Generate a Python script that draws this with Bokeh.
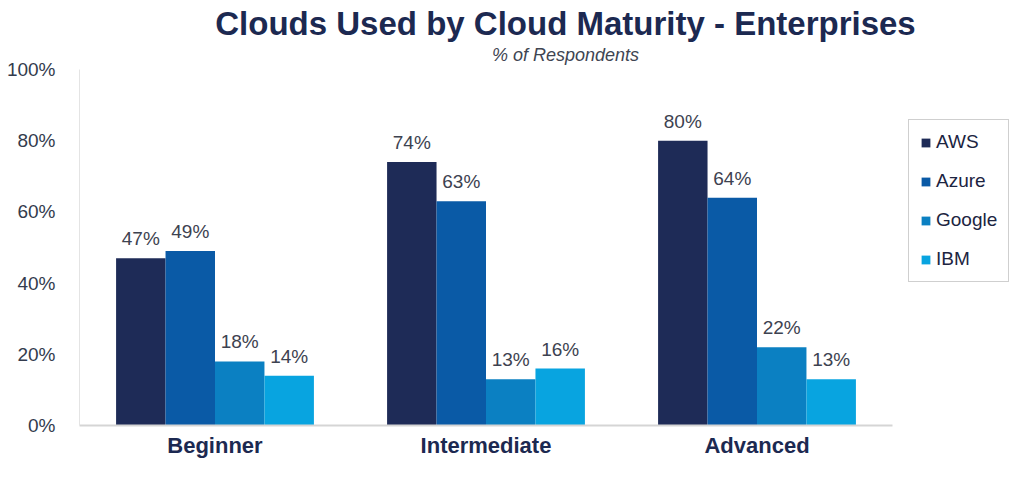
from bokeh.plotting import figure
from bokeh.models import ColumnDataSource, Legend, LegendItem, FixedTicker, Label, Range1d
from bokeh.core.properties import value
from bokeh.embed import file_html
from bokeh.resources import INLINE

categories = ["Beginner", "Intermediate", "Advanced"]
series = ["AWS", "Azure", "Google", "IBM"]
aws = [47, 74, 80]
azure = [49, 63, 64]
google = [18, 13, 22]
ibm = [14, 16, 13]
y_ticks = [0, 20, 40, 60, 80, 100]

colors = ["#1e2b57", "#0a5aa6", "#0b80c2", "#08a4e0"]
values = [aws, azure, google, ibm]

FONT = "Liberation Sans"
W, H = 1013, 461
LEFT, RIGHT, BOTTOM = 79, 1, 36
frame_w = W - LEFT - RIGHT
frame_h = H - BOTTOM
px_per_cat = 271.0
px_per_pct = (frame_h - 69) / 100.0

cat_x = list(range(len(categories)))
p = figure(x_range=Range1d(-0.5, -0.5 + frame_w / px_per_cat),
           y_range=Range1d(0, frame_h / px_per_pct),
           width=W, height=H, output_backend="svg", toolbar_location=None,
           min_border_left=LEFT, min_border_right=RIGHT, min_border_top=0,
           min_border_bottom=BOTTOM)
p.outline_line_color = None
p.xgrid.grid_line_color = None
p.ygrid.grid_line_color = None
p.background_fill_color = "white"
p.border_fill_color = "white"

bw = 0.1825
offsets = [-1.5 * bw, -0.5 * bw, 0.5 * bw, 1.5 * bw]
items = []
for name, vals, col, off in zip(series, values, colors, offsets):
    src = ColumnDataSource(dict(x=[c + off for c in cat_x], val=vals,
                                lab=[f"{v}%" for v in vals]))
    r = p.vbar(x="x", top="val", width=bw, source=src, fill_color=col, line_color=None)
    p.text(x="x", y="val", text="lab", source=src,
           text_align="center", text_baseline="bottom", y_offset=-9,
           text_font=value(FONT), text_font_size="19px", text_color="#3d4250")
    items.append(LegendItem(label=name, renderers=[r]))

legend = Legend(items=items, location=(829, frame_h - 282), orientation="vertical",
                label_text_font=FONT, label_text_font_size="19px", label_text_color="#1c2441",
                glyph_width=11, glyph_height=11, label_height=20, spacing=17, padding=11,
                label_standoff=5, border_line_color="#a0a0a0", border_line_width=1,
                background_fill_alpha=1.0, margin=0)
p.add_layout(legend, "center")

p.yaxis.ticker = FixedTicker(ticks=y_ticks)
p.yaxis.bounds = (y_ticks[0], y_ticks[-1])
p.yaxis.major_label_overrides = {t: f"{t}%" for t in y_ticks}
p.yaxis.major_tick_line_color = None
p.yaxis.minor_tick_line_color = None
p.yaxis.axis_line_color = "#e4e4e4"
p.yaxis.major_label_text_font = FONT
p.yaxis.major_label_text_font_size = "19px"
p.yaxis.major_label_text_color = "#333b4d"
p.yaxis.major_label_standoff = 18

p.xaxis.ticker = FixedTicker(ticks=cat_x)
p.xaxis.bounds = (-0.5, len(categories) - 0.5)
p.xaxis.major_label_overrides = {i: c for i, c in zip(cat_x, categories)}
p.xaxis.major_tick_line_color = None
p.xaxis.minor_tick_line_color = None
p.xaxis.axis_line_color = "#d5d5d5"
p.xaxis.axis_line_width = 2
p.xaxis.major_label_text_font = FONT
p.xaxis.major_label_text_font_style = "bold"
p.xaxis.major_label_text_font_size = "22px"
p.xaxis.major_label_text_color = "#1c2951"
p.xaxis.major_label_standoff = 1

p.add_layout(Label(x=486, y=frame_h - 23, x_units="screen", y_units="screen",
                   text="Clouds Used by Cloud Maturity - Enterprises",
                   text_align="center", text_baseline="middle",
                   text_font=FONT, text_font_style="bold", text_font_size="33px",
                   text_color="#1c2951"))
p.add_layout(Label(x=486, y=frame_h - 54, x_units="screen", y_units="screen",
                   text="% of Respondents",
                   text_align="center", text_baseline="middle",
                   text_font=FONT, text_font_style="italic", text_font_size="18px",
                   text_color="#404552"))

open("out.html", "w").write(file_html(p, INLINE))
